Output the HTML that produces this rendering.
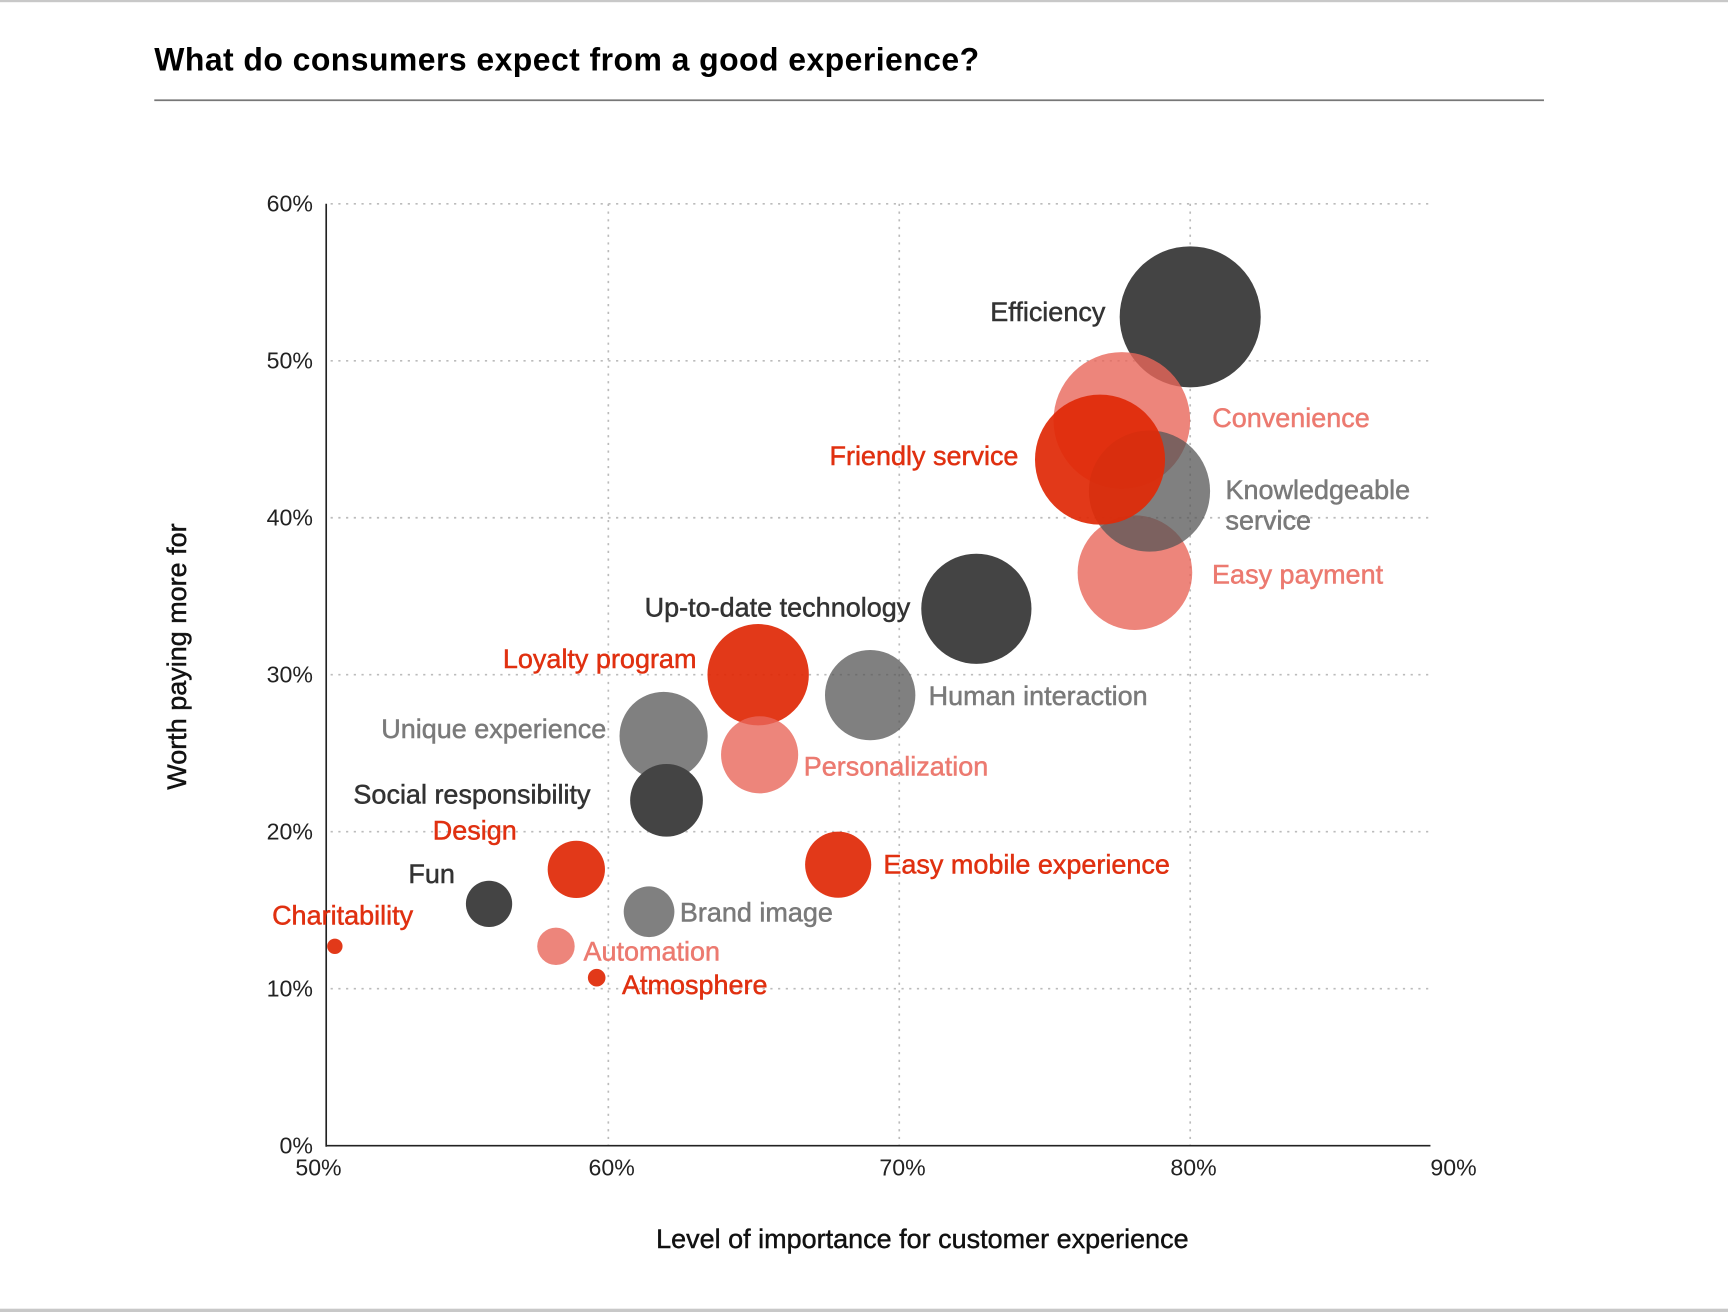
<!DOCTYPE html>
<html><head><meta charset="utf-8"><style>
html,body{margin:0;padding:0;background:#fff;}
svg{display:block;font-family:"Liberation Sans",Arial,sans-serif;}
</style></head><body>
<svg id="chart" width="1728" height="1312" viewBox="0 0 1568 1191" preserveAspectRatio="none">
<rect x="0" y="0" width="1568" height="2" fill="#c8c8c8"/>
<rect x="0" y="1188" width="1568" height="3" fill="#c8c8c8"/>
<text x="140" y="64" font-size="29" font-weight="bold" letter-spacing="0.4" fill="#000">What do consumers expect from a good experience?</text>
<line x1="140" y1="91" x2="1401" y2="91" stroke="#777" stroke-width="1.5"/>
<g id="grid"></g>
<g id="axes"></g>
<g id="bubbles"></g>
<g id="labels"></g>
<text x="837" y="1133" font-size="24.5" text-anchor="middle" fill="#111" stroke="#111" stroke-width="0.4">Level of importance for customer experience</text>
<text transform="translate(169,596) rotate(-90)" font-size="24.5" text-anchor="middle" fill="#111" stroke="#111" stroke-width="0.4">Worth paying more for</text>
</svg>
<script>
const names = ["Efficiency","Convenience","Easy payment","Knowledgeable service","Friendly service","Up-to-date technology","Human interaction","Loyalty program","Personalization","Unique experience","Social responsibility","Design","Easy mobile experience","Fun","Brand image","Automation","Atmosphere","Charitability"];
const xValues = [80.0,77.65,78.1,78.6,76.9,72.65,69.0,65.15,65.2,61.9,62.0,58.9,67.9,55.9,61.4,58.2,59.6,50.6];
const yValues = [52.8,46.2,36.5,41.7,43.7,34.2,28.7,30.0,24.9,26.1,22.0,17.6,17.9,15.4,14.9,12.7,10.7,12.7];
const sizes = [64,62,52,55,59,50,41,46,35,40,33,26,30,21,23,17,8,7];
const groups = ["dark","pink","pink","gray","red","dark","gray","red","pink","gray","dark","red","red","dark","gray","pink","red","red"];
const xTicks = [50,60,70,80,90];
const yTicks = [0,10,20,30,40,50,60];
const xTickLabels = ["50%","60%","70%","80%","90%"];
const yTickLabels = ["0%","10%","20%","30%","40%","50%","60%"];

const NS="http://www.w3.org/2000/svg";
function X(v){return 288+(v-50)*26.4;}
function Y(v){return 1040-v*14.25;}
const fills={dark:"#444",pink:"#e9675a",gray:"#555",red:"#e02a08"};
const opac={dark:1,pink:0.8,gray:0.75,red:0.93};
const textCol={dark:"#333",pink:"#ec7a70",gray:"#7a7a7a",red:"#e03010"};
const labDx=[-77,82,70,69,-74,-60,53,-56,40,-52,-69,-54,41,-31,28,25,23,71];
const labDy=[4,6,10,7,5,7,9,-6,19,2,3,-27,8,-19,9,13,15,-20];
const anchors=["end","start","start","start","end","end","start","end","start","end","end","end","start","end","start","start","start","end"];
function mk(t,a,p){const e=document.createElementNS(NS,t);for(const k in a)e.setAttribute(k,a[k]);p.appendChild(e);return e;}
const grid=document.getElementById('grid'),axes=document.getElementById('axes');
xTicks.forEach((t,i)=>{
  if(t>50&&t<90){const l=mk('line',{x1:X(t),y1:185,x2:X(t),y2:1040,stroke:'#bbb','stroke-width':1.5,'stroke-dasharray':'2,5'},grid);
  
  }
  const tx=mk('text',{x:X(t)+(t==50?1:t==90?-25:3),y:1067,'font-size':21,'text-anchor':'middle',fill:'#222'},axes);
  tx.textContent=xTickLabels[i];
  
  
});
yTicks.forEach((t,i)=>{
  if(t>0){const l=mk('line',{x1:300,y1:Y(t),x2:1300,y2:Y(t),stroke:'#bbb','stroke-width':1.5,'stroke-dasharray':'2,5'},grid);
  
  }
  const tx=mk('text',{x:284,y:Y(t)+7,'font-size':21,'text-anchor':'end',fill:'#222'},axes);
  tx.textContent=yTickLabels[i];
  
  
});
const ya=mk('line',{x1:296,y1:185,x2:296,y2:1041,stroke:'#222','stroke-width':1.5},axes);


const xa=mk('line',{x1:296,y1:1040,x2:1298,y2:1040,stroke:'#222','stroke-width':1.5},axes);


const bg=document.getElementById('bubbles'),lg=document.getElementById('labels');
names.forEach((n,i)=>{
  const g=groups[i],cx=X(xValues[i]),cy=Y(yValues[i]);
  const c=mk('circle',{cx:cx,cy:cy,r:sizes[i],fill:fills[g],'fill-opacity':opac[g]},bg);
  
  
  const t=mk('text',{x:cx+labDx[i],y:cy+labDy[i],'font-size':24.5,'text-anchor':anchors[i],fill:textCol[g],stroke:textCol[g],'stroke-width':0.45},lg);
  
  
  if(n==="Knowledgeable service"){
    const a=mk('tspan',{x:cx+labDx[i]},t);a.textContent="Knowledgeable";
    const b=mk('tspan',{x:cx+labDx[i],dy:28},t);b.textContent="service";
  } else t.textContent=n;
});
</script>
</body></html>
